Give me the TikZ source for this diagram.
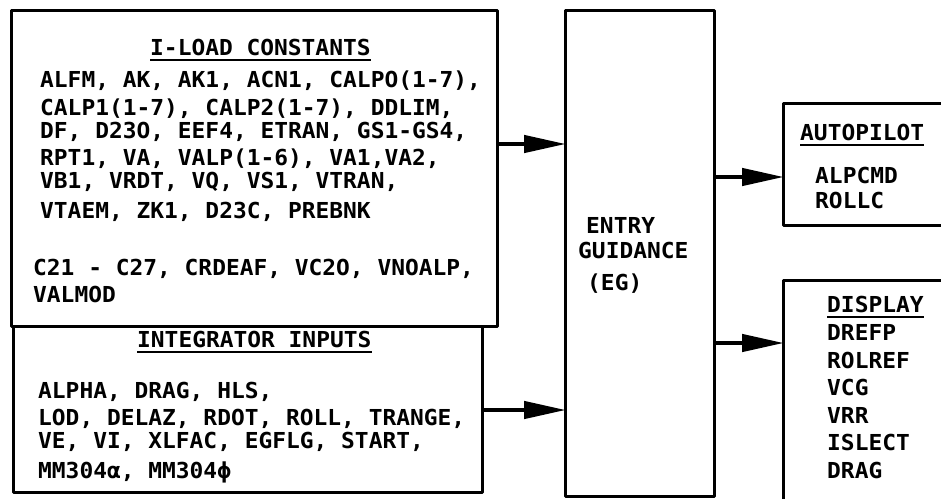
\documentclass[tikz,border=0pt]{standalone}
\usepackage{fontspec}
\setmonofont{DejaVu Sans Mono}[FakeStretch=1.04]
\usetikzlibrary{arrows.meta}
\begin{document}
\begin{tikzpicture}[x=1pt,y=-1pt,
  boxline/.style={line width=3pt,line join=round},
  txt/.style={anchor=base west,inner sep=0pt,font=\ttfamily\bfseries\fontsize{22}{22}\selectfont},
  ttl/.style={txt},
  uline/.style={line width=2pt},
  flow/.style={line width=4.5pt,-{Triangle[length=42pt,width=17pt]},shorten >=-1pt}]
\useasboundingbox (0,0) rectangle (941,498);
% boxes
\draw[boxline] (11,10) rectangle (497,326);
\draw[boxline] (13,326) rectangle (482,492);
\draw[boxline] (565,10) rectangle (714,496);
\draw[boxline] (945,103) -- (783,103) -- (783,225) -- (945,225);
\draw[boxline] (945,280) -- (783,280) -- (783,502);
% anchor coordinates
\coordinate (b1r) at (497,144);
\coordinate (b2r) at (482,410);
\coordinate (egl1) at (565,144);
\coordinate (egl2) at (565,410);
\coordinate (egr1) at (714,177);
\coordinate (egr2) at (714,343);
\coordinate (apl) at (783,177);
\coordinate (dsl) at (783,343);
% arrows
\draw[flow] (b1r) -- (egl1);
\draw[flow] (b2r) -- (egl2);
\draw[flow] (egr1) -- (apl);
\draw[flow] (egr2) -- (dsl);
% I-LOAD constants
\node[ttl] (t1) at (150,55) {I-LOAD CONSTANTS};
\draw[uline] ([yshift=-5pt]t1.base west) -- ([yshift=-5pt]t1.base east);
\node[txt] (l1) at (40,87) {ALFM, AK, AK1, ACN1, CALPO(1-7),};
\node[txt] (l2) at (40,115) {CALP1(1-7), CALP2(1-7), DDLIM,};
\node[txt] (l3) at (40,138) {DF, D23O, EEF4, ETRAN, GS1-GS4,};
\node[txt] (l4) at (40,165) {RPT1, VA, VALP(1-6), VA1,VA2,};
\node[txt] (l5) at (40,188) {VB1, VRDT, VQ, VS1, VTRAN,};
\node[txt] (l6) at (40,218) {VTAEM, ZK1, D23C, PREBNK};
\node[txt] (l7) at (33,275) {C21 - C27, CRDEAF, VC2O, VNOALP,};
\node[txt] (l8) at (33,302) {VALMOD};
% integrator inputs
\node[ttl] (t2) at (137,347) {INTEGRATOR INPUTS};
\draw[uline] ([yshift=-5pt]t2.base west) -- ([yshift=-5pt]t2.base east);
\node[txt] (m1) at (38,398) {ALPHA, DRAG, HLS,};
\node[txt] (m2) at (38,425) {LOD, DELAZ, RDOT, ROLL, TRANGE,};
\node[txt] (m3) at (38,448) {VE, VI, XLFAC, EGFLG, START,};
\node[txt] (m4) at (38,478) {MM304α, MM304ϕ};
% entry guidance
\node[txt] (e1) at (586,233) {ENTRY};
\node[txt] (e2) at (578,258) {GUIDANCE};
\node[txt] (e3) at (587,290) {(EG)};
% autopilot
\node[ttl] (t3) at (800,140) {AUTOPILOT};
\draw[uline] ([yshift=-5pt]t3.base west) -- ([yshift=-5pt]t3.base east);
\node[txt] (a1) at (815,183) {ALPCMD};
\node[txt] (a2) at (815,208) {ROLLC};
% display
\node[ttl] (t4) at (827,312) {DISPLAY};
\draw[uline] ([yshift=-5pt]t4.base west) -- ([yshift=-5pt]t4.base east);
\node[txt] (d1) at (827,340) {DREFP};
\node[txt] (d2) at (827,368) {ROLREF};
\node[txt] (d3) at (827,395) {VCG};
\node[txt] (d4) at (827,423) {VRR};
\node[txt] (d5) at (827,450) {ISLECT};
\node[txt] (d6) at (827,478) {DRAG};
\end{tikzpicture}
\end{document}
